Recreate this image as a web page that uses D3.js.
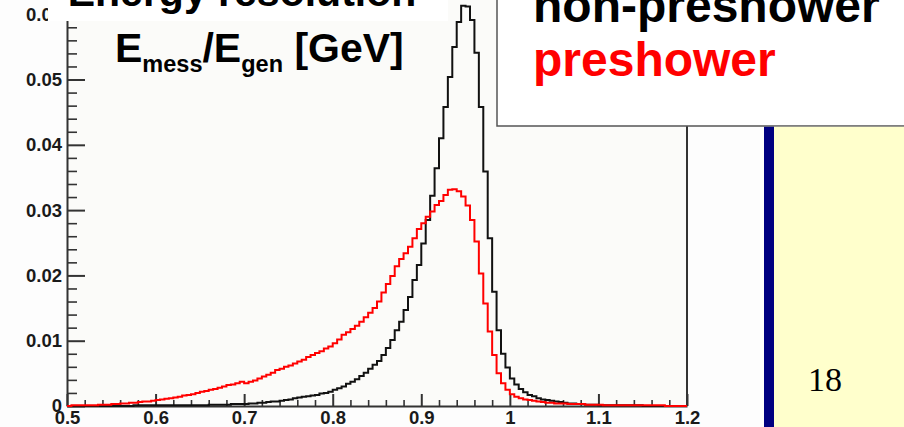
<!DOCTYPE html>
<html>
<head>
<meta charset="utf-8">
<script src="https://cdn.jsdelivr.net/npm/d3@7"></script>
<style>
  html, body { margin: 0; padding: 0; background: #fdfdfd; }
  svg { display: block; }
  .tick text { font-family: "Liberation Sans", Arial, sans-serif; font-weight: bold; fill: #1a1a1a; }
</style>
</head>
<body>
<svg id="chart" width="904" height="427"></svg>
<script>
// Histogram binning: 140 bins of width 0.005 from 0.5 to 1.2
const binStart = 0.5;
const binWidth = 0.005;

// Normalised entries per bin, non-preshower sample (black)
const nonPreshower = [
  0, 0, 0, 0, 0, 0, 0, 0, 0, 0,
  0, 0, 0, 0, 0, 0.0001, 0.0001, 0.0001, 0.0001, 0.0001,
  0.0001, 0.0001, 0.0001, 0.0001, 0.0001, 0.0001, 0.0001, 0.0001, 0.0001, 0.0001,
  0.0001, 0.0001, 0.0002, 0.0002, 0.0002, 0.0002, 0.0002, 0.0003, 0.0003, 0.0003,
  0.0003, 0.0004, 0.0004, 0.0005, 0.0005, 0.0006, 0.0007, 0.0007, 0.0008, 0.0009,
  0.0010, 0.0012, 0.0013, 0.0014, 0.0015, 0.0016, 0.0017, 0.0019, 0.0020, 0.0022,
  0.0025, 0.0027, 0.0030, 0.0034, 0.0037, 0.0041, 0.0046, 0.0051, 0.0057, 0.0063,
  0.0069, 0.0078, 0.0089, 0.0101, 0.0116, 0.0129, 0.0147, 0.0167, 0.0193, 0.0216,
  0.0249, 0.0285, 0.0322, 0.0364, 0.0410, 0.0458, 0.0504, 0.0550, 0.0588, 0.0613,
  0.0612, 0.0591, 0.0541, 0.0458, 0.0359, 0.0257, 0.0175, 0.0116, 0.0080, 0.0059,
  0.0042, 0.0033, 0.0026, 0.0021, 0.0017, 0.0015, 0.0012, 0.0010, 0.0009, 0.0008,
  0.0007, 0.0006, 0.0005, 0.0004, 0.0004, 0.0003, 0.0003, 0.0002, 0.0002, 0.0002,
  0.0001, 0.0001, 0.0001, 0.0001, 0.0001, 0.0001, 0.0001, 0.0001, 0.0001, 0.0001,
  0, 0, 0, 0, 0, 0, 0, 0, 0, 0
];

// Normalised entries per bin, preshower sample (red)
const preshower = [
  0, 0.0001, 0.0001, 0.0001, 0.0001, 0.0001, 0.0001, 0.0002, 0.0002, 0.0002,
  0.0003, 0.0003, 0.0004, 0.0004, 0.0005, 0.0005, 0.0006, 0.0007, 0.0007, 0.0008,
  0.0009, 0.0010, 0.0011, 0.0012, 0.0013, 0.0014, 0.0016, 0.0017, 0.0018, 0.0020,
  0.0022, 0.0023, 0.0025, 0.0026, 0.0028, 0.0030, 0.0032, 0.0033, 0.0035, 0.0037,
  0.0035, 0.0037, 0.0039, 0.0042, 0.0045, 0.0048, 0.0051, 0.0055, 0.0057, 0.0060,
  0.0062, 0.0065, 0.0068, 0.0071, 0.0075, 0.0078, 0.0081, 0.0084, 0.0088, 0.0091,
  0.0096, 0.0102, 0.0109, 0.0113, 0.0118, 0.0123, 0.0129, 0.0136, 0.0143, 0.0150,
  0.0160, 0.0174, 0.0187, 0.0199, 0.0214, 0.0225, 0.0234, 0.0244, 0.0257, 0.0271,
  0.0280, 0.0290, 0.0298, 0.0308, 0.0314, 0.0323, 0.0331, 0.0332, 0.0329, 0.0321,
  0.0307, 0.0285, 0.0252, 0.0203, 0.0157, 0.0114, 0.0078, 0.0050, 0.0035, 0.0025,
  0.0018, 0.0014, 0.0012, 0.0010, 0.0009, 0.0008, 0.0007, 0.0006, 0.0005, 0.0005,
  0.0004, 0.0004, 0.0004, 0.0003, 0.0003, 0.0003, 0.0003, 0.0002, 0.0002, 0.0002,
  0.0002, 0.0001, 0.0001, 0.0001, 0.0001, 0.0001, 0.0001, 0.0001, 0.0001, 0.0001,
  0.0001, 0.0001, 0.0001, 0.0001, 0.0001, 0, 0, 0, 0, 0
];

// Axis ticks
const xMajorTicks = [0.5, 0.6, 0.7, 0.8, 0.9, 1.0, 1.1, 1.2];
const xTickLabels = ["0.5", "0.6", "0.7", "0.8", "0.9", "1", "1.1", "1.2"];
const yMajorTicks = [0, 0.01, 0.02, 0.03, 0.04, 0.05, 0.06];
const yTickLabels = ["0", "0.01", "0.02", "0.03", "0.04", "0.05", "0.06"];

const xDomain = [0.5, 1.2];
const yDomain = [0, 0.0644];

const svg = d3.select("#chart");

const x = d3.scaleLinear().domain(xDomain).range([67, 687]);
const y = d3.scaleLinear().domain(yDomain).range([406, -14.5]);

// pad background
svg.append("rect")
  .attr("x", x(xDomain[0])).attr("y", y(yDomain[1]))
  .attr("width", x(xDomain[1]) - x(xDomain[0]))
  .attr("height", y(0) - y(yDomain[1]))
  .attr("fill", "#fbfbf9");

// right frame edge
svg.append("line")
  .attr("x1", x(xDomain[1])).attr("x2", x(xDomain[1]))
  .attr("y1", y(yDomain[1])).attr("y2", y(0))
  .attr("stroke", "#333").attr("stroke-width", 2);

// minor ticks
const xMinor = d3.range(0, 36).map(i => +(0.5 + i * 0.02).toFixed(3))
  .filter(v => Math.abs(v * 10 - Math.round(v * 10)) > 1e-6);
const yMinor = d3.range(0, 33).map(i => +(i * 0.002).toFixed(4))
  .filter(v => Math.abs(v * 100 - Math.round(v * 100)) > 1e-6);

svg.append("g")
  .attr("transform", `translate(0,${y(0)})`)
  .call(d3.axisBottom(x).tickValues(xMinor).tickSize(-6).tickFormat(""))
  .call(g => g.select(".domain").remove())
  .call(g => g.selectAll(".tick line").attr("stroke", "#333").attr("stroke-width", 1.6));

svg.append("g")
  .attr("transform", `translate(${x(xDomain[0])},0)`)
  .call(d3.axisLeft(y).tickValues(yMinor).tickSize(-10).tickFormat(""))
  .call(g => g.select(".domain").remove())
  .call(g => g.selectAll(".tick line").attr("stroke", "#333").attr("stroke-width", 1.6));

// major axes
svg.append("g")
  .attr("transform", `translate(0,${y(0)})`)
  .call(d3.axisBottom(x).tickValues(xMajorTicks).tickSizeInner(-12).tickSizeOuter(0)
    .tickPadding(5).tickFormat((d, i) => xTickLabels[i]))
  .call(g => g.select(".domain").attr("stroke", "#333").attr("stroke-width", 2))
  .call(g => g.selectAll(".tick line").attr("stroke", "#333").attr("stroke-width", 2))
  .call(g => g.selectAll(".tick text").attr("font-size", 18.5).attr("dy", "0.7em"));

svg.append("g")
  .attr("transform", `translate(${x(xDomain[0])},0)`)
  .call(d3.axisLeft(y).tickValues(yMajorTicks).tickSizeInner(-18).tickSizeOuter(0)
    .tickPadding(5).tickFormat((d, i) => yTickLabels[i]))
  .call(g => g.select(".domain").attr("stroke", "#333").attr("stroke-width", 2))
  .call(g => g.selectAll(".tick line").attr("stroke", "#333").attr("stroke-width", 2))
  .call(g => g.selectAll(".tick text").attr("font-size", 18.5));

// step outline of a histogram
function stepPoints(values) {
  const pts = [[binStart, 0]];
  values.forEach((v, i) => {
    const lo = binStart + i * binWidth;
    pts.push([lo, v], [lo + binWidth, v]);
  });
  pts.push([binStart + values.length * binWidth, 0]);
  return pts;
}
const line = d3.line().x(d => x(d[0])).y(d => y(d[1]));

svg.append("path")
  .attr("d", line(stepPoints(nonPreshower)))
  .attr("fill", "none").attr("stroke", "#111").attr("stroke-width", 2)
  .attr("stroke-linejoin", "miter");

svg.append("path")
  .attr("d", line(stepPoints(preshower)))
  .attr("fill", "none").attr("stroke", "#ff0000").attr("stroke-width", 2)
  .attr("stroke-linejoin", "miter");

// title block
svg.append("rect").attr("x", 48).attr("y", 0).attr("width", 400).attr("height", 21).attr("fill", "#ffffff");
svg.append("text")
  .attr("x", 242).attr("y", 6).attr("text-anchor", "middle")
  .attr("font-family", "Liberation Sans, Arial, sans-serif").attr("font-weight", "bold")
  .attr("font-size", 41).attr("fill", "#000")
  .text("Energy resolution");

const sub = svg.append("text")
  .attr("x", 115).attr("y", 62)
  .attr("font-family", "Liberation Sans, Arial, sans-serif").attr("font-weight", "bold")
  .attr("font-size", 41).attr("fill", "#000");
sub.append("tspan").text("E");
sub.append("tspan").attr("font-size", 23.5).attr("dy", 10).text("mess");
sub.append("tspan").attr("dy", -10).text("/E");
sub.append("tspan").attr("font-size", 23.5).attr("dy", 10).text("gen");
sub.append("tspan").attr("dy", -10).text(" [GeV]");

// legend box
svg.append("rect")
  .attr("x", 497).attr("y", -3).attr("width", 420).attr("height", 129)
  .attr("fill", "#ffffff").attr("stroke", "#555").attr("stroke-width", 1.5);
svg.append("text")
  .attr("x", 533).attr("y", 22)
  .attr("font-family", "Liberation Sans, Arial, sans-serif").attr("font-weight", "bold")
  .attr("font-size", 48).attr("fill", "#000")
  .text("non-preshower");
svg.append("text")
  .attr("x", 533).attr("y", 76)
  .attr("font-family", "Liberation Sans, Arial, sans-serif").attr("font-weight", "bold")
  .attr("font-size", 48).attr("fill", "#ff0000")
  .text("preshower");

// slide side panel
svg.append("rect").attr("x", 764).attr("y", 126.8).attr("width", 10).attr("height", 301).attr("fill", "#000080");
svg.append("rect").attr("x", 774).attr("y", 126.8).attr("width", 130).attr("height", 301).attr("fill", "#ffffcc");
svg.append("text")
  .attr("x", 808).attr("y", 391)
  .attr("font-family", "Liberation Serif, Times New Roman, serif")
  .attr("font-size", 34).attr("fill", "#000")
  .text("18");
</script>
</body>
</html>
